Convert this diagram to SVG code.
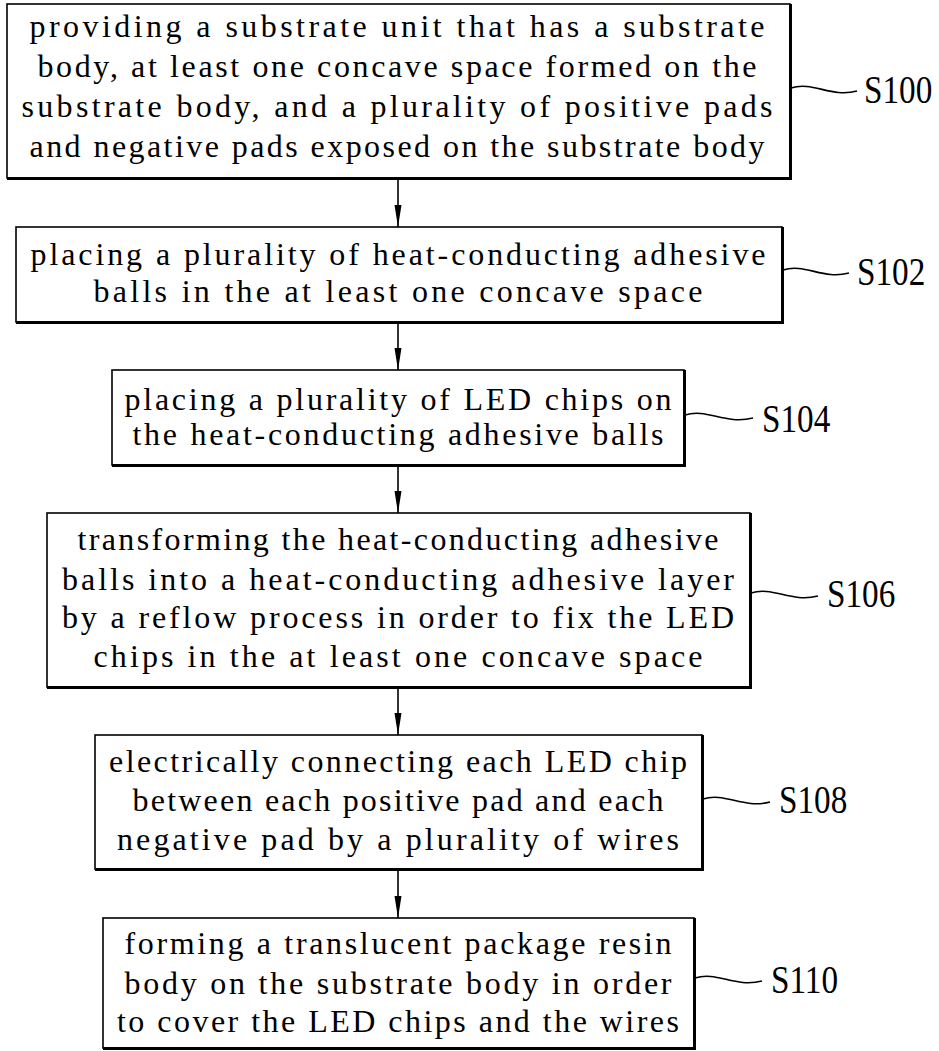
<svg xmlns="http://www.w3.org/2000/svg" width="939" height="1051" viewBox="0 0 939 1051">
<style>
.box{fill:#fff;stroke:#000;stroke-width:1.6}
.sh{fill:none;stroke:#000;stroke-width:3}
.t{font-family:"Liberation Serif","Times New Roman",serif;font-size:32px;fill:#000;text-anchor:middle}
.lb{font-family:"Liberation Serif","Times New Roman",serif;font-size:40px;fill:#000}
.conn{stroke:#000;stroke-width:1.6;fill:none}
.tl{stroke:#000;stroke-width:1.6;fill:none}
</style>
<defs>
<marker id="ah" markerUnits="userSpaceOnUse" markerWidth="22" markerHeight="8" refX="22" refY="4" orient="auto">
<path d="M0,0.5 L22,4 L0,7.5 z" fill="#000"/>
</marker>
</defs>
<rect width="939" height="1051" fill="#fff"/>
<g id="connectors">
<line class="conn" x1="398" y1="179" x2="398" y2="227" marker-end="url(#ah)"/>
<line class="conn" x1="398" y1="323" x2="398" y2="370" marker-end="url(#ah)"/>
<line class="conn" x1="398" y1="466" x2="398" y2="513" marker-end="url(#ah)"/>
<line class="conn" x1="398" y1="688" x2="398" y2="735" marker-end="url(#ah)"/>
<line class="conn" x1="398" y1="870" x2="398" y2="918" marker-end="url(#ah)"/>
</g>
<g id="S100">
<rect class="box" x="7" y="4" width="783" height="174"/>
<path class="sh" d="M790.5,4 V178.5 H7"/>
<text class="t" x="397" y="37" textLength="735" lengthAdjust="spacing">providing a substrate unit that has a substrate</text>
<text class="t" x="397" y="77" textLength="719" lengthAdjust="spacing">body, at least one concave space formed on the</text>
<text class="t" x="397" y="117" textLength="751" lengthAdjust="spacing">substrate body, and a plurality of positive pads</text>
<text class="t" x="397" y="157" textLength="735" lengthAdjust="spacing">and negative pads exposed on the substrate body</text>
<path class="tl" d="M791,88 c22,-7 40,10 66,3"/>
<text class="lb" transform="translate(864,103) scale(0.83,1)">S100</text>
</g>
<g id="S102">
<rect class="box" x="16" y="227" width="766" height="95"/>
<path class="sh" d="M782.5,227 V322.5 H16"/>
<text class="t" x="398" y="265" textLength="735" lengthAdjust="spacing">placing a plurality of heat-conducting adhesive</text>
<text class="t" x="398" y="302" textLength="609" lengthAdjust="spacing">balls in the at least one concave space</text>
<path class="tl" d="M783,270 c22,-7 40,10 66,3"/>
<text class="lb" transform="translate(857,285) scale(0.83,1)">S102</text>
</g>
<g id="S104">
<rect class="box" x="112" y="370" width="572" height="95"/>
<path class="sh" d="M684.5,370 V465.5 H112"/>
<text class="t" x="398" y="410" textLength="547" lengthAdjust="spacing">placing a plurality of LED chips on</text>
<text class="t" x="398" y="445" textLength="531" lengthAdjust="spacing">the heat-conducting adhesive balls</text>
<path class="tl" d="M685,415 c22,-7 40,10 68,3"/>
<text class="lb" transform="translate(762,432) scale(0.83,1)">S104</text>
</g>
<g id="S106">
<rect class="box" x="47" y="513" width="703" height="174"/>
<path class="sh" d="M750.5,513 V687.5 H47"/>
<text class="t" x="398" y="550" textLength="641" lengthAdjust="spacing">transforming the heat-conducting adhesive</text>
<text class="t" x="398" y="590" textLength="672" lengthAdjust="spacing">balls into a heat-conducting adhesive layer</text>
<text class="t" x="398" y="628" textLength="672" lengthAdjust="spacing">by a reflow process in order to fix the LED</text>
<text class="t" x="398" y="667" textLength="609" lengthAdjust="spacing">chips in the at least one concave space</text>
<path class="tl" d="M751,593 c22,-7 40,10 67,3"/>
<text class="lb" transform="translate(827,607) scale(0.83,1)">S106</text>
</g>
<g id="S108">
<rect class="box" x="95" y="735" width="607" height="134"/>
<path class="sh" d="M702.5,735 V869.5 H95"/>
<text class="t" x="398" y="772" textLength="578" lengthAdjust="spacing">electrically connecting each LED chip</text>
<text class="t" x="398" y="811" textLength="531" lengthAdjust="spacing">between each positive pad and each</text>
<text class="t" x="398" y="850" textLength="562" lengthAdjust="spacing">negative pad by a plurality of wires</text>
<path class="tl" d="M703,799 c22,-7 40,10 67,3"/>
<text class="lb" transform="translate(779,813) scale(0.83,1)">S108</text>
</g>
<g id="S110">
<rect class="box" x="103" y="918" width="591" height="130"/>
<path class="sh" d="M694.5,918 V1048.5 H103"/>
<text class="t" x="398" y="954" textLength="547" lengthAdjust="spacing">forming a translucent package resin</text>
<text class="t" x="398" y="994" textLength="547" lengthAdjust="spacing">body on the substrate body in order</text>
<text class="t" x="398" y="1032" textLength="562" lengthAdjust="spacing">to cover the LED chips and the wires</text>
<path class="tl" d="M695,978 c22,-7 40,10 67,3"/>
<text class="lb" transform="translate(771,993) scale(0.83,1)">S110</text>
</g>
</svg>
